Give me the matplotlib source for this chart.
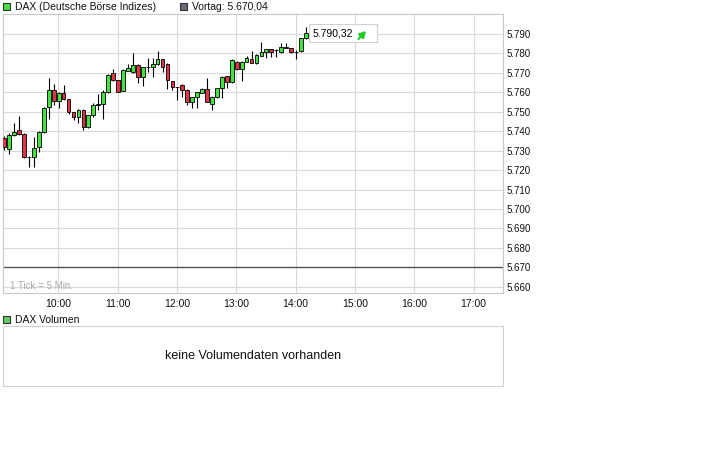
import matplotlib
matplotlib.use("Agg")
import matplotlib.pyplot as plt
import pandas as pd
from matplotlib import patches
from matplotlib.ticker import FuncFormatter

plt.rcParams["font.family"] = ["Liberation Sans", "DejaVu Sans"]

# 5-minute DAX candles, 09:05 .. 14:10
times = pd.date_range("2011-01-01 09:05", periods=62, freq="5min")
opens = [
    5736.3, 5730.7, 5738.0, 5740.6, 5738.5, 5726.9, 5726.9, 5732.0, 5739.7, 5752.3,
    5761.2, 5755.5, 5759.5, 5756.4, 5749.7, 5747.1, 5750.9, 5742.0, 5748.3, 5753.5,
    5753.8, 5760.3, 5769.8, 5766.3, 5760.8, 5771.1, 5770.3, 5774.1, 5767.7, 5772.9,
    5772.9, 5774.6, 5777.0, 5774.6, 5765.8, 5762.6, 5763.8, 5761.2, 5755.2, 5757.4,
    5759.8, 5761.5, 5753.8, 5757.4, 5762.1, 5768.4, 5765.5, 5775.7, 5771.8, 5775.7,
    5777.0, 5775.2, 5778.8, 5780.6, 5782.1, 5781.8, 5780.6, 5783.2, 5782.6, 5780.9,
    5781.4, 5787.8,
]
highs = [
    5737.5, 5739.0, 5744.1, 5747.8, 5739.0, 5727.5, 5737.0, 5740.0, 5752.5, 5767.2,
    5764.1, 5760.0, 5763.8, 5756.8, 5750.0, 5751.2, 5751.3, 5748.6, 5754.3, 5759.0,
    5761.0, 5769.5, 5771.8, 5766.5, 5771.8, 5774.6, 5780.4, 5774.5, 5773.2, 5777.5,
    5777.5, 5781.3, 5777.3, 5775.0, 5766.0, 5763.0, 5764.1, 5761.5, 5757.7, 5760.3,
    5762.0, 5767.2, 5758.0, 5762.4, 5768.5, 5768.6, 5777.0, 5776.0, 5776.0, 5778.5,
    5781.3, 5779.5, 5786.0, 5782.4, 5782.4, 5782.2, 5785.5, 5785.5, 5783.0, 5782.0,
    5788.0, 5793.4,
]
lows = [
    5730.5, 5728.3, 5737.5, 5738.0, 5726.0, 5721.7, 5721.7, 5729.3, 5739.0, 5746.1,
    5753.5, 5751.8, 5756.0, 5749.0, 5745.8, 5744.4, 5740.6, 5741.5, 5747.1, 5751.0,
    5746.1, 5759.5, 5766.0, 5760.0, 5760.5, 5770.8, 5770.0, 5764.6, 5763.4, 5770.3,
    5768.0, 5774.3, 5770.3, 5761.5, 5761.2, 5756.0, 5757.7, 5753.5, 5752.1, 5752.1,
    5759.5, 5755.0, 5750.9, 5757.1, 5757.1, 5762.2, 5765.0, 5771.5, 5766.0, 5775.4,
    5775.0, 5774.8, 5778.5, 5777.5, 5778.3, 5778.2, 5780.3, 5782.8, 5780.3, 5777.0,
    5781.0, 5787.5,
]
closes = [
    5732.0, 5738.0, 5739.4, 5738.5, 5726.9, 5726.9, 5731.2, 5739.7, 5751.8, 5761.2,
    5755.5, 5759.5, 5756.4, 5749.7, 5747.1, 5750.9, 5742.0, 5748.3, 5753.5, 5754.0,
    5760.3, 5768.9, 5766.3, 5760.3, 5771.5, 5772.4, 5774.1, 5767.7, 5772.9, 5772.9,
    5774.6, 5777.0, 5773.2, 5766.3, 5762.6, 5762.6, 5761.2, 5755.2, 5757.4, 5760.0,
    5761.5, 5755.2, 5757.4, 5762.1, 5768.0, 5765.5, 5776.6, 5771.8, 5775.7, 5777.5,
    5775.2, 5779.2, 5780.6, 5782.1, 5780.6, 5781.8, 5783.2, 5783.0, 5780.6, 5780.9,
    5787.8, 5790.32,
]
prev_close = 5670.04
hour_ticks = ["10:00", "11:00", "12:00", "13:00", "14:00", "15:00", "16:00", "17:00"]
y_ticks = list(range(5660, 5800, 10))

UP, DOWN = "#44e044", "#e03346"
W, H = 720, 450


def de_num(v, digits):
    s = f"{v:,.{digits}f}"
    return s.replace(",", "X").replace(".", ",").replace("X", ".")


def minutes(ts):
    return ts.hour * 60 + ts.minute


def px_axes(fig, x0, y0, x1, y1):
    return fig.add_axes([x0 / W, 1 - y1 / H, (x1 - x0) / W, (y1 - y0) / H])


def legend_box(fig, x, y, color, label):
    # x, y: top-left corner of the little square, in pixels from top-left
    fig.patches.append(
        patches.Rectangle(
            (x / W, 1 - (y + 7) / H), 7 / W, 7 / H, transform=fig.transFigure,
            facecolor=color, edgecolor="#333333", linewidth=0.8,
        )
    )
    fig.text((x + 12) / W, 1 - (y + 4) / H, label, fontsize=7.5, va="center", color="#111111")


fig = plt.figure(figsize=(7.2, 4.5), dpi=100)

ax = px_axes(fig, 2.5, 14, 503.5, 293)
ax.set_xlim(543.7, 1050.3)
ax.set_ylim(5656.8, 5800.3)
ax.grid(True, color="#dadada", linewidth=0.8)
ax.set_axisbelow(True)
for spine in ax.spines.values():
    spine.set_color("#c8c8c8")
    spine.set_linewidth(0.8)

ax.axhline(prev_close, color="#555555", linewidth=1.0, zorder=1)

x = [minutes(t) + 0.5 for t in times]
for xi, o, h, l, c in zip(x, opens, highs, lows, closes):
    ax.vlines(xi, l, h, color="black", linewidth=0.8, zorder=2)
    ax.bar(
        xi, abs(c - o), bottom=min(o, c), width=3.8,
        color=UP if c >= o else DOWN, edgecolor="black", linewidth=0.6, zorder=3,
    )

ax.set_xticks([600 + 60 * i for i in range(len(hour_ticks))])
ax.set_xticklabels(hour_ticks)
ax.set_yticks(y_ticks)
ax.yaxis.tick_right()
ax.yaxis.set_major_formatter(FuncFormatter(lambda v, _: de_num(v, 0)))
ax.tick_params(axis="x", length=0, pad=4.5, labelsize=7.5, labelcolor="#111111")
ax.tick_params(axis="y", length=0, pad=2.5, labelsize=7, labelcolor="#111111")

# last price box
last_x = x[-1]
ax.add_patch(
    patches.Rectangle(
        (last_x + 3, closes[-1] - 4.6), 68.5, 9.2, facecolor="white",
        edgecolor="#d0d0d0", linewidth=0.8, zorder=4, clip_on=False,
    )
)
ax.text(last_x + 7, closes[-1], de_num(closes[-1], 2), fontsize=7.5, va="center", zorder=5)
ax.annotate(
    "", xy=(366, 450 - 31), xytext=(358.5, 450 - 39), xycoords="figure pixels",
    textcoords="figure pixels", zorder=6, annotation_clip=False,
    arrowprops=dict(arrowstyle="-|>,head_length=0.35,head_width=0.2", color="#22cc22",
                    linewidth=1.6, shrinkA=0, shrinkB=0),
)

fig.text(10 / W, 1 - 286 / H, "1 Tick = 5 Min.", fontsize=7, color="#aaaaaa", va="center")

legend_box(fig, 3, 3, UP, "DAX (Deutsche Börse Indizes)")
legend_box(fig, 180, 3, "#6a6a78", "Vortag: " + de_num(prev_close, 2))

# volume panel (empty)
legend_box(fig, 3, 316, "#66cc66", "DAX Volumen")
vax = px_axes(fig, 2.7, 326, 503.3, 386)
vax.set_xticks([])
vax.set_yticks([])
for spine in vax.spines.values():
    spine.set_color("#d0d0d0")
    spine.set_linewidth(0.8)
vax.text(0.5, 0.5, "keine Volumendaten vorhanden", transform=vax.transAxes,
         ha="center", va="center", fontsize=9, color="#111111")

fig.savefig("out.png", dpi=100)
